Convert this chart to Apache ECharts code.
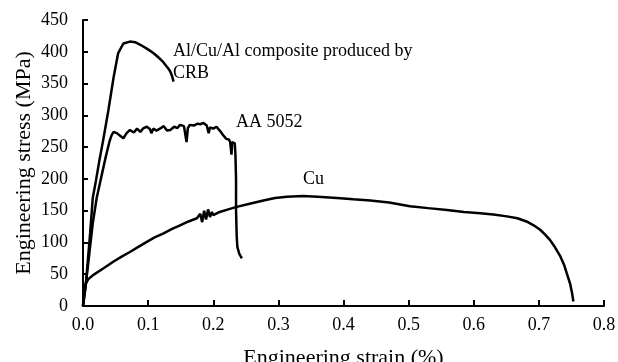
<!DOCTYPE html>
<html>
<head>
<meta charset="utf-8">
<script src="https://cdn.jsdelivr.net/npm/echarts@6/dist/echarts.min.js"></script>
<style>
  html, body { margin: 0; padding: 0; background: #fff; }
  #chart { width: 618px; height: 362px; }
</style>
</head>
<body>
<div id="chart"></div>
<script>
// strain (%) , stress (MPa)
const compositeCurve = [
  [0, 0], [0.004, 30], [0.011, 115], [0.015, 170], [0.020, 198], [0.025, 228],
  [0.031, 261], [0.039, 308], [0.047, 360], [0.054, 398], [0.062, 413],
  [0.072, 416], [0.080, 415], [0.088, 411], [0.098, 405], [0.108, 398],
  [0.116, 391], [0.123, 384], [0.130, 375], [0.134, 369], [0.137, 361], [0.139, 353]
];

const aa5052Curve = [
  [0, 0], [0.005, 40], [0.010, 85], [0.015, 130], [0.021, 170], [0.027, 198],
  [0.035, 235], [0.041, 260], [0.044, 269], [0.047, 274], [0.052, 272],
  [0.057, 268], [0.062, 264], [0.067, 272], [0.072, 277], [0.078, 273],
  [0.083, 279], [0.088, 274], [0.093, 280], [0.098, 282], [0.103, 278],
  [0.105, 272], [0.108, 279], [0.113, 276], [0.118, 279], [0.124, 283],
  [0.129, 276], [0.134, 277], [0.140, 282], [0.145, 280], [0.149, 285],
  [0.155, 283], [0.158, 284], [0.159, 258], [0.161, 280], [0.164, 285],
  [0.170, 284], [0.176, 287], [0.180, 286], [0.185, 288], [0.190, 284],
  [0.193, 272], [0.195, 281], [0.200, 279], [0.205, 282], [0.210, 276],
  [0.215, 269], [0.220, 263], [0.224, 262], [0.226, 258], [0.228, 238],
  [0.229, 258], [0.231, 255], [0.233, 256], [0.234, 240], [0.235, 200],
  [0.235, 150], [0.236, 110], [0.237, 93], [0.240, 82], [0.244, 75]
];

const cuCurve = [
  [0, 0], [0.001, 15], [0.003, 33], [0.008, 42], [0.016, 49], [0.031, 59],
  [0.047, 70], [0.060, 78], [0.072, 85], [0.085, 93], [0.098, 101],
  [0.110, 108], [0.123, 114], [0.136, 121], [0.149, 127], [0.162, 133],
  [0.175, 138], [0.180, 145], [0.183, 132], [0.186, 150], [0.189, 136],
  [0.192, 152], [0.195, 140], [0.198, 148], [0.200, 143], [0.210, 148],
  [0.223, 152], [0.236, 156], [0.256, 161], [0.277, 166], [0.295, 170],
  [0.313, 172], [0.338, 173], [0.360, 172], [0.390, 170], [0.415, 168],
  [0.441, 166], [0.470, 163], [0.502, 157], [0.530, 154], [0.559, 151],
  [0.585, 148], [0.610, 146], [0.630, 144], [0.651, 141], [0.667, 138],
  [0.681, 133], [0.692, 127], [0.702, 120], [0.710, 112], [0.717, 104],
  [0.725, 92], [0.733, 78], [0.739, 64], [0.743, 51], [0.748, 35],
  [0.751, 20], [0.753, 7]
];

const curveLabels = ["Al/Cu/Al composite produced by\nCRB", "AA 5052", "Cu"];
const xTitle = "Engineering strain (%)";
const yTitle = "Engineering stress (MPa)";

const FONT = "'Liberation Serif', 'Times New Roman', serif";

const chart = echarts.init(document.getElementById("chart"));

function curveSeries(name, data) {
  return {
    name: name,
    type: "line",
    data: data,
    showSymbol: false,
    symbol: "none",
    silent: true,
    animation: false,
    lineStyle: { color: "#000", width: 2.5 }
  };
}

const option = {
  backgroundColor: "#fff",
  animation: false,
  grid: { left: 83, right: 14, top: 20, bottom: 56, outerBoundsMode: "none", containLabel: false },
  xAxis: {
    type: "value",
    min: 0,
    max: 0.8,
    interval: 0.1,
    name: xTitle,
    nameLocation: "middle",
    nameGap: 41,
    nameMoveOverlap: false,
    nameTextStyle: { fontFamily: FONT, fontSize: 22, color: "#000" },
    axisLine: { show: true, onZero: false, lineStyle: { color: "#000", width: 2 } },
    axisTick: { show: true, inside: true, length: 6, lineStyle: { color: "#000", width: 2 } },
    axisLabel: {
      fontFamily: FONT, fontSize: 18, color: "#000", margin: 10,
      formatter: (v) => v.toFixed(1)
    },
    splitLine: { show: false }
  },
  yAxis: {
    type: "value",
    min: 0,
    max: 450,
    interval: 50,
    name: yTitle,
    nameLocation: "middle",
    nameGap: 48,
    nameMoveOverlap: false,
    nameTextStyle: { fontFamily: FONT, fontSize: 22, color: "#000" },
    axisLine: { show: true, lineStyle: { color: "#000", width: 2 } },
    axisTick: { show: true, inside: true, length: 5, lineStyle: { color: "#000", width: 2 } },
    axisLabel: { fontFamily: FONT, fontSize: 18, color: "#000", margin: 15 },
    splitLine: { show: false }
  },
  graphic: [
    {
      type: "text", left: 173, top: 40, silent: true,
      style: { text: curveLabels[0], fontFamily: FONT, fontSize: 18, lineHeight: 22, fill: "#000" }
    },
    {
      type: "text", left: 236, top: 113, silent: true,
      style: { text: curveLabels[1], fontFamily: FONT, fontSize: 18, fill: "#000" }
    },
    {
      type: "text", left: 303, top: 170, silent: true,
      style: { text: curveLabels[2], fontFamily: FONT, fontSize: 18, fill: "#000" }
    }
  ],
  series: [
    curveSeries("composite", compositeCurve),
    curveSeries("AA 5052", aa5052Curve),
    curveSeries("Cu", cuCurve)
  ]
};

chart.setOption(option);
</script>
</body>
</html>
